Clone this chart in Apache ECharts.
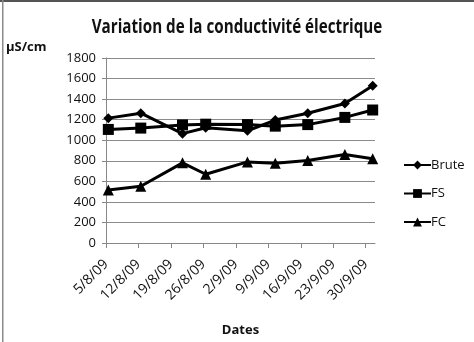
<!DOCTYPE html>
<html>
<head>
<meta charset="utf-8">
<script src="https://cdn.jsdelivr.net/npm/echarts@6/dist/echarts.min.js"></script>
<style>
  html, body { margin: 0; padding: 0; background: #fff; }
  #chart { width: 474px; height: 342px; }
</style>
</head>
<body>
<div id="chart"></div>
<script>
// Sampling dates and measured conductivity (µS/cm)
const sampleDates = ['2009-08-05', '2009-08-12', '2009-08-21', '2009-08-26', '2009-09-04',
                     '2009-09-10', '2009-09-17', '2009-09-25', '2009-10-01'];
const brute = [1215, 1263, 1064, 1121, 1092, 1196, 1263, 1358, 1531];
const fs    = [1105, 1118, 1149, 1156, 1152, 1137, 1152, 1222, 1294];
const fc    = [515, 552, 780, 669, 789, 777, 802, 862, 820];

// Weekly tick labels along the date axis
const weekLabels = ['5/8/09', '12/8/09', '19/8/09', '26/8/09', '2/9/09',
                    '9/9/09', '16/9/09', '23/9/09', '30/9/09'];

const FONT = '"Open Sans", "Noto Sans", sans-serif';

// Day number counted from the first sampling date; points sit mid-day
const origin = Date.UTC(2009, 7, 5);
function dayNumber(s) {
  const [y, m, d] = s.split('-').map(Number);
  return (Date.UTC(y, m - 1, d) - origin) / 86400000;
}
const toPoints = vals => vals.map((v, i) => [dayNumber(sampleDates[i]) + 0.5, v]);
const weekTicks = weekLabels.map((_, i) => i * 7);

const chart = echarts.init(document.getElementById('chart'), null, { renderer: 'canvas' });

const seriesStyle = (name, symbol, size, vals) => ({
  name, type: 'line', data: toPoints(vals),
  symbol, symbolSize: size,
  lineStyle: { color: '#000', width: 3 },
  itemStyle: { color: '#000' },
  emphasis: { disabled: true },
  animation: false
});

chart.setOption({
  backgroundColor: '#fff',
  animation: false,
  grid: { left: 106, right: 99, top: 58, bottom: 94 },
  legend: {
    orient: 'vertical', left: 398, top: 153.5,
    itemWidth: 27, itemHeight: 11, itemGap: 15.5,
    textStyle: { fontFamily: FONT, fontSize: 13, color: '#111', padding: [0, 0, 0, -5] },
    data: ['Brute', 'FS', 'FC']
  },
  xAxis: {
    type: 'value', min: 0, max: 58,
    name: 'Dates', nameLocation: 'middle', nameGap: 81,
    nameTextStyle: { fontFamily: FONT, fontWeight: 'bold', fontSize: 13, color: '#111' },
    splitLine: { show: false },
    axisLine: { show: true, lineStyle: { color: '#888', width: 1 } },
    axisTick: { show: true, customValues: weekTicks, length: 5, lineStyle: { color: '#888' } },
    axisLabel: {
      customValues: weekTicks, rotate: 45, margin: 19,
      fontFamily: FONT, fontSize: 14, color: '#111',
      formatter: v => weekLabels[Math.round(v / 7)]
    }
  },
  yAxis: {
    type: 'value', min: 0, max: 1800, interval: 200,
    axisLine: { show: true, lineStyle: { color: '#888', width: 1 } },
    axisTick: { show: true, inside: false, length: 4, lineStyle: { color: '#888' } },
    splitLine: { show: true, lineStyle: { color: '#8a8a8a', width: 1.2 } },
    axisLabel: { margin: 10, fontFamily: FONT, fontSize: 13, color: '#111',
                 formatter: v => String(v) }
  },
  graphic: [
    { type: 'rect', left: 0, top: 0, shape: { width: 474, height: 2 }, style: { fill: '#555' } },
    { type: 'rect', left: 2, top: 0, shape: { width: 1.5, height: 342 }, style: { fill: '#8a8a8a' } },
    { type: 'text', x: 237, y: 28, scaleX: 0.8,
      style: { text: 'Variation de la conductivité électrique', x: 0, y: 0,
               align: 'center', verticalAlign: 'middle',
               font: 'bold 19px ' + FONT, fill: '#111' } },
    { type: 'text', left: 6, top: 41,
      style: { text: 'µS/cm', font: 'bold 13px ' + FONT, fill: '#111' } }
  ],
  series: [
    seriesStyle('Brute', 'diamond', 10, brute),
    seriesStyle('FS', 'rect', 11, fs),
    seriesStyle('FC', 'triangle', 11, fc)
  ]
});
</script>
</body>
</html>
